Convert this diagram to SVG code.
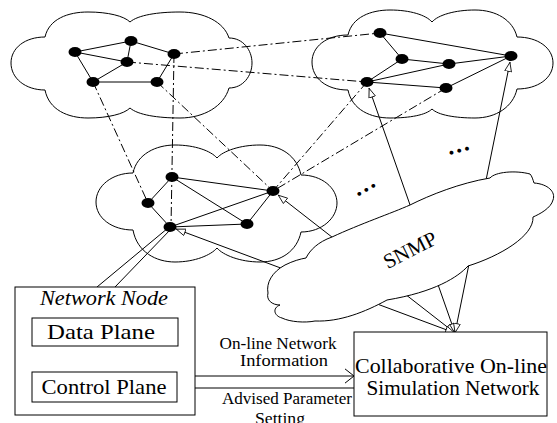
<svg xmlns="http://www.w3.org/2000/svg" width="557" height="423" viewBox="0 0 557 423">
<style>
.cloud{fill:#fff;stroke:#000;stroke-width:1}
.e{stroke:#000;stroke-width:1;fill:none}
.dd{stroke:#000;stroke-width:1;fill:none;stroke-dasharray:9,3,2,3}
.ar{stroke:#000;stroke-width:1;fill:none;marker-start:url(#oa);marker-end:url(#oa)}
.dot{fill:#000}
.box{fill:#fff;stroke:#000;stroke-width:1}
text{font-family:'Liberation Serif','Times New Roman','DejaVu Serif',serif;fill:#000}
</style>
<defs>
<marker id="oa" viewBox="0 0 10 8" refX="10" refY="4" markerWidth="10" markerHeight="8" markerUnits="userSpaceOnUse" orient="auto-start-reverse"><path d="M0.5,0.6 L9.6,4 L0.5,7.4 Z" fill="#fff" stroke="#000" stroke-width="0.8"/></marker>
<marker id="ch" viewBox="0 0 10 16" refX="9.5" refY="8" markerWidth="10" markerHeight="16" markerUnits="userSpaceOnUse" orient="auto-start-reverse"><path d="M0,0.5 L9.5,8 L0,15.5" fill="none" stroke="#000" stroke-width="1"/></marker>
</defs>

<g id="cloud-top-left"><path class="cloud" d="M45,37 C49,19 68,12 88,12 C108,12 124,16 130,22 C138,15 158,12 180,12 C204,12 224,22 229,38 C243,38 252,50 252,63 C252,76 243,88 229,88 C224,106 204,118 180,118 C158,118 138,115 130,108 C124,114 108,118 88,118 C68,118 49,110 45,90 C25,90 11,78 11,63 C11,48 25,37 45,37 Z"/></g>
<g id="cloud-top-right"><path class="cloud" d="M348,35 C352,17 371,10 390,10 C410,10 426,15 432,22 C438,15 455,10 475,10 C496,10 513,20 517,37 C538,37 553,48 553,63 C553,78 538,89 517,89 C513,107 496,118 475,118 C455,118 438,115 432,109 C426,115 410,118 390,118 C371,118 352,110 348,90 C326,90 312,78 312,62 C312,47 326,35 348,35 Z"/></g>
<g id="cloud-middle"><path class="cloud" d="M133,173 C137,154 156,145 175,145 C195,145 211,151 217,158 C223,151 240,145 260,145 C281,145 297,156 301,175 C322,175 337,188 337,203 C337,218 322,232 301,232 C297,251 281,262 260,262 C240,262 223,255 217,248 C211,255 195,262 175,262 C156,262 137,252 133,230 C112,230 96,218 96,202 C96,186 112,173 133,173 Z"/></g>

<g id="connectors">
<line class="e" x1="75" y1="52" x2="131" y2="41"/>
<line class="e" x1="75" y1="52" x2="127" y2="62"/>
<line class="e" x1="75" y1="52" x2="93" y2="82"/>
<line class="e" x1="131" y1="41" x2="127" y2="62"/>
<line class="e" x1="131" y1="41" x2="174" y2="54"/>
<line class="e" x1="127" y1="62" x2="93" y2="82"/>
<line class="e" x1="93" y1="82" x2="157" y2="82"/>
<line class="e" x1="157" y1="82" x2="174" y2="54"/>
<line class="e" x1="380" y1="33" x2="402" y2="59"/>
<line class="e" x1="380" y1="33" x2="511" y2="56"/>
<line class="e" x1="402" y1="59" x2="367" y2="82"/>
<line class="e" x1="402" y1="59" x2="449" y2="64"/>
<line class="e" x1="449" y1="64" x2="511" y2="56"/>
<line class="e" x1="367" y1="82" x2="449" y2="64"/>
<line class="e" x1="367" y1="82" x2="446" y2="88"/>
<line class="e" x1="446" y1="88" x2="511" y2="56"/>
<line class="e" x1="172" y1="177" x2="148" y2="203"/>
<line class="e" x1="148" y1="203" x2="170" y2="227"/>
<line class="e" x1="172" y1="177" x2="273" y2="191"/>
<line class="e" x1="172" y1="177" x2="247" y2="224"/>
<line class="e" x1="170" y1="227" x2="273" y2="191"/>
<line class="e" x1="170" y1="227" x2="247" y2="224"/>
<line class="e" x1="247" y1="224" x2="273" y2="191"/>
<line class="dd" x1="174" y1="54" x2="380" y2="33"/>
<line class="dd" x1="127" y1="62" x2="367" y2="82"/>
<line class="dd" x1="174" y1="54" x2="171" y2="227"/>
<line class="dd" x1="93" y1="82" x2="148" y2="203"/>
<line class="dd" x1="157" y1="82" x2="273" y2="191"/>
<line class="dd" x1="367" y1="82" x2="273" y2="191"/>
<line class="dd" x1="446" y1="88" x2="273" y2="191"/>
<line class="ar" x1="369" y1="88" x2="455" y2="333"/>
<line class="ar" x1="510" y1="62" x2="455" y2="333"/>
<line class="ar" x1="278" y1="195" x2="455" y2="333"/>
<line class="ar" x1="176" y1="229" x2="455" y2="333"/>
<line class="e" x1="97" y1="287" x2="168" y2="228"/>
<line class="e" x1="115" y1="287" x2="171" y2="229"/>
<line class="e" x1="105" y1="346" x2="105" y2="372" marker-start="url(#ch)" marker-end="url(#ch)"/>
<line class="e" x1="177" y1="376" x2="354" y2="376" marker-end="url(#ch)"/>
<line class="e" x1="177" y1="388" x2="354" y2="388" marker-start="url(#ch)"/>
</g>

<g id="nodes-top-left">
<g id="nA"><ellipse class="dot" cx="75" cy="52" rx="6.5" ry="5"/></g>
<g id="nB"><ellipse class="dot" cx="131" cy="41" rx="6.5" ry="5"/></g>
<g id="nC"><ellipse class="dot" cx="174" cy="54" rx="6.5" ry="5"/></g>
<g id="nD"><ellipse class="dot" cx="127" cy="62" rx="6.5" ry="5"/></g>
<g id="nE"><ellipse class="dot" cx="93" cy="82" rx="6.5" ry="5"/></g>
<g id="nF"><ellipse class="dot" cx="157" cy="82" rx="6.5" ry="5"/></g>
</g>
<g id="nodes-top-right">
<g id="nG"><ellipse class="dot" cx="380" cy="33" rx="6.5" ry="5"/></g>
<g id="nH"><ellipse class="dot" cx="402" cy="59" rx="6.5" ry="5"/></g>
<g id="nI"><ellipse class="dot" cx="449" cy="64" rx="6.5" ry="5"/></g>
<g id="nJ"><ellipse class="dot" cx="511" cy="56" rx="6.5" ry="5"/></g>
<g id="nK"><ellipse class="dot" cx="367" cy="82" rx="6.5" ry="5"/></g>
<g id="nL"><ellipse class="dot" cx="446" cy="88" rx="6.5" ry="5"/></g>
</g>
<g id="nodes-middle">
<g id="nM"><ellipse class="dot" cx="172" cy="177" rx="6.5" ry="5"/></g>
<g id="nN"><ellipse class="dot" cx="148" cy="203" rx="6.5" ry="5"/></g>
<g id="nO"><ellipse class="dot" cx="170" cy="227" rx="6.5" ry="5"/></g>
<g id="nP"><ellipse class="dot" cx="247" cy="224" rx="6.5" ry="5"/></g>
<g id="nQ"><ellipse class="dot" cx="273" cy="191" rx="6.5" ry="5"/></g>
</g>

<g id="ellipses">
<text x="367" y="191" font-size="24" font-weight="bold" letter-spacing="2" text-anchor="middle" transform="rotate(-30 367 189)">...</text>
<text x="460" y="152" font-size="24" font-weight="bold" letter-spacing="2" text-anchor="middle" transform="rotate(-15 460 150)">...</text>
</g>

<g id="snmp">
<path class="cloud" d="M268,293 C266,283 272,272 285,265 C293,261 300,259 306,258 C310,250 318,242 332,237 C360,224 392,213 410,205 C430,195 460,183 490,178 C495,172 515,170 530,174 C532,176 533,180 534,183 C548,184 556,192 553,200 C551,208 540,214 533,217 C534,236 500,256 468,266 C458,277 435,292 387,300 C365,312 340,322 315,321 C305,323 290,322 282,318 C274,316 272,308 280,305 C272,305 266,300 268,293 Z"/>
<text x="410" y="257" font-size="21" text-anchor="middle" transform="rotate(-27 410 250)">SNMP</text>
</g>

<g id="network-node">
<rect class="box" x="15" y="287" width="180" height="128"/>
<text x="104" y="305" font-size="20" font-style="italic" text-anchor="middle" textLength="128" lengthAdjust="spacingAndGlyphs">Network Node</text>
</g>
<g id="data-plane">
<rect class="box" x="32" y="318" width="146" height="28"/>
<text x="101" y="339" font-size="21" text-anchor="middle" textLength="108" lengthAdjust="spacingAndGlyphs">Data Plane</text>
</g>
<g id="control-plane">
<rect class="box" x="32" y="372" width="145" height="30"/>
<text x="104" y="394" font-size="21" text-anchor="middle" textLength="125" lengthAdjust="spacingAndGlyphs">Control Plane</text>
</g>
<g id="collab">
<rect class="box" x="354" y="332" width="193" height="84"/>
<text x="451" y="373" font-size="21" text-anchor="middle" textLength="192" lengthAdjust="spacingAndGlyphs">Collaborative On-line</text>
<text x="453" y="395" font-size="21" text-anchor="middle" textLength="173" lengthAdjust="spacingAndGlyphs">Simulation Network</text>
</g>
<g id="labels">
<text x="278" y="349" font-size="16" text-anchor="middle" textLength="117" lengthAdjust="spacingAndGlyphs">On-line Network</text>
<text x="284" y="366" font-size="16" text-anchor="middle" textLength="88" lengthAdjust="spacingAndGlyphs">Information</text>
<text x="287" y="404" font-size="16" text-anchor="middle" textLength="130" lengthAdjust="spacingAndGlyphs">Advised Parameter</text>
<text x="280" y="424" font-size="16" text-anchor="middle" textLength="50" lengthAdjust="spacingAndGlyphs">Setting</text>
</g>
</svg>
